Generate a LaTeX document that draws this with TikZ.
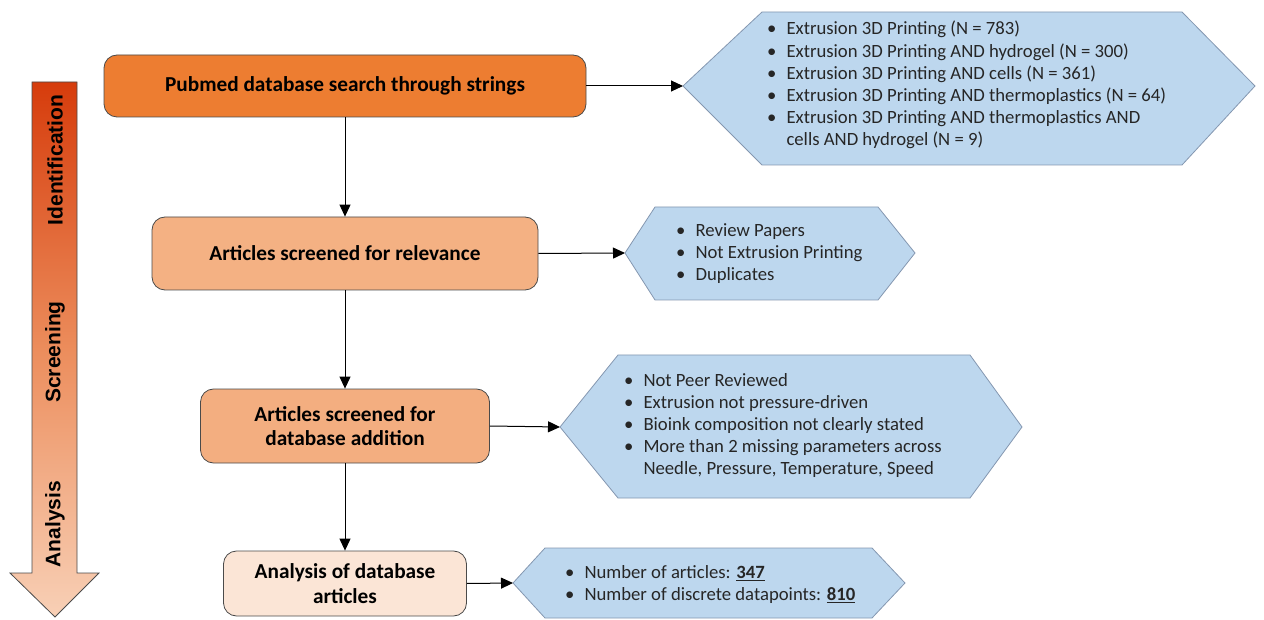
\documentclass[tikz,border=0pt]{standalone}
\usepackage{fontspec}
\setmainfont{Carlito}
\newfontfamily\lblfont{Liberation Sans}
\usetikzlibrary{arrows.meta}
\definecolor{boxA}{HTML}{ED7D31}
\definecolor{boxB}{HTML}{F4B183}
\definecolor{boxC}{HTML}{F3AE80}
\definecolor{boxD}{HTML}{FBE5D6}
\definecolor{hexfill}{HTML}{BDD7EE}
\definecolor{hexline}{HTML}{8497B0}
\definecolor{boxline}{HTML}{4A4A4A}
\definecolor{arrtop}{HTML}{D63C0C}
\definecolor{arrmid}{HTML}{EC8D5C}
\definecolor{arrbot}{HTML}{F8D0B6}
\newcommand{\bl}{\textbullet}
\tikzset{
  flowbox/.style={draw=boxline, line width=0.8pt, rounded corners=13pt, inner sep=0pt,
    font=\fontsize{21.3}{24.5}\selectfont\bfseries, align=center},
  hexshape/.style={draw=hexline, fill=hexfill, line width=0.8pt},
  hextext/.style={anchor=west, inner sep=0pt, font=\fontsize{18.7}{22.2}\selectfont, align=left, text=black!85},
  conn/.style={-{Triangle[length=12pt,width=11pt]}, line width=1pt, black},
  stagelbl/.style={rotate=90, font=\lblfont\fontsize{21}{24}\selectfont\bfseries}
}
\begin{document}
\begin{tikzpicture}[x=1pt,y=-1pt]
\useasboundingbox (0,0) rectangle (1264,620);
% stage arrow
\shade[top color=arrtop, bottom color=arrbot, middle color=arrmid]
  (32,82) -- (77,82) -- (77,573) -- (99,573) -- (55,617) -- (10,573) -- (32,573) -- cycle;
\draw[boxline, line width=0.8pt]
  (32,82) -- (77,82) -- (77,573) -- (99,573) -- (55,617) -- (10,573) -- (32,573) -- cycle;
\node[stagelbl] (sid) at (55,160) {Identification};
\node[stagelbl] (ssc) at (55,352) {Screening};
\node[stagelbl] (san) at (55,524) {Analysis};

% main boxes
\node[flowbox, fill=boxA, minimum width=482pt, minimum height=62pt] (b1) at (345,86) {Pubmed database search through strings};
\node[flowbox, fill=boxB, minimum width=386pt, minimum height=73pt] (b2) at (345,253.5) {Articles screened for relevance};
\node[flowbox, fill=boxC, minimum width=289pt, minimum height=74pt] (b3) at (345,426) {Articles screened for\\database addition};
\node[flowbox, fill=boxD, minimum width=243pt, minimum height=65pt] (b4) at (345,583.5) {Analysis of database\\articles};

% hexagons
\draw[hexshape] (683,86) -- (762,12) -- (1182,12) -- (1255,86) -- (1182,165) -- (762,165) -- cycle;
\coordinate (h1) at (683,86);
\node[hextext] (t1) at (767,86) {\begin{tabular}{@{}l@{\hspace{10pt}}l@{}}
\bl & Extrusion 3D Printing (N = 783)\\
\bl & Extrusion 3D Printing AND hydrogel (N = 300)\\
\bl & Extrusion 3D Printing AND cells (N = 361)\\
\bl & Extrusion 3D Printing AND thermoplastics (N = 64)\\
\bl & Extrusion 3D Printing AND thermoplastics AND\\
    & cells AND hydrogel (N = 9)
\end{tabular}};

\draw[hexshape] (625,253) -- (655,207) -- (878,207) -- (915,253) -- (878,300) -- (655,300) -- cycle;
\coordinate (h2) at (625,253);
\node[hextext] (t2) at (676,254) {\begin{tabular}{@{}l@{\hspace{10pt}}l@{}}
\bl & Review Papers\\
\bl & Not Extrusion Printing\\
\bl & Duplicates
\end{tabular}};

\draw[hexshape] (560,427) -- (618,355) -- (970,355) -- (1022,427) -- (970,498) -- (618,498) -- cycle;
\coordinate (h3) at (560,427);
\node[hextext] (t3) at (624,426) {\begin{tabular}{@{}l@{\hspace{10pt}}l@{}}
\bl & Not Peer Reviewed\\
\bl & Extrusion not pressure-driven\\
\bl & Bioink composition not clearly stated\\
\bl & More than 2 missing parameters across\\
    & Needle, Pressure, Temperature, Speed
\end{tabular}};

\draw[hexshape] (513,583) -- (545,548) -- (872,548) -- (905,583) -- (872,618) -- (545,618) -- cycle;
\coordinate (h4) at (513,583);
\node[hextext] (t4) at (565,585) {\begin{tabular}{@{}l@{\hspace{10pt}}l@{}}
\bl & Number of articles: \underline{\textbf{347}}\\
\bl & Number of discrete datapoints: \underline{\textbf{810}}
\end{tabular}};

% connectors
\draw[conn] (b1.east) -- (h1);
\draw[conn] (b2.east) -- (h2);
\draw[conn] (b3.east) -- (h3);
\draw[conn] (b4.east) -- (h4);
\draw[conn] (b1.south) -- (b2.north);
\draw[conn] (b2.south) -- (b3.north);
\draw[conn] (b3.south) -- (b4.north);
\end{tikzpicture}
\end{document}
